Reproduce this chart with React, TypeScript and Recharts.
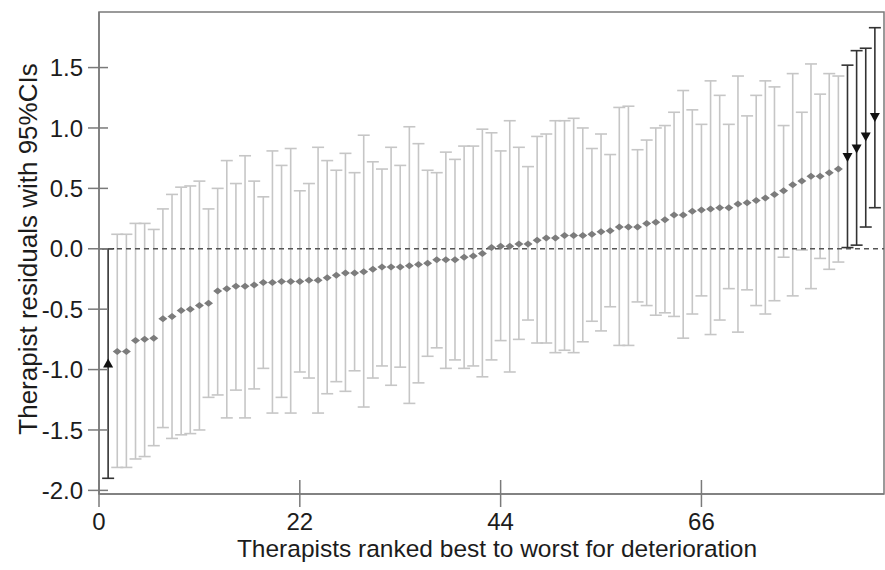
import {
  ComposedChart,
  ErrorBar,
  ReferenceArea,
  ReferenceLine,
  Scatter,
  XAxis,
  YAxis,
} from "recharts";

// therapist residuals, ranked 1..85 best to worst
const estimate = [
  -0.95, -0.85, -0.85, -0.76, -0.75, -0.74, -0.58, -0.56, -0.51, -0.5,
  -0.47, -0.45, -0.35, -0.33, -0.31, -0.31, -0.3, -0.28, -0.28, -0.27,
  -0.27, -0.27, -0.26, -0.26, -0.24, -0.22, -0.2, -0.2, -0.19, -0.17,
  -0.15, -0.15, -0.15, -0.14, -0.13, -0.12, -0.09, -0.09, -0.09, -0.07,
  -0.06, -0.04, 0.01, 0.02, 0.02, 0.04, 0.04, 0.07, 0.09, 0.09,
  0.11, 0.11, 0.11, 0.12, 0.14, 0.15, 0.18, 0.18, 0.18, 0.21,
  0.22, 0.24, 0.28, 0.28, 0.31, 0.32, 0.33, 0.34, 0.34, 0.37,
  0.38, 0.4, 0.42, 0.45, 0.48, 0.53, 0.56, 0.6, 0.6, 0.63,
  0.66, 0.76, 0.83, 0.93, 1.09,
];

const lower = [
  -1.9, -1.81, -1.81, -1.74, -1.72, -1.63, -1.48, -1.57, -1.54, -1.53,
  -1.5, -1.23, -1.21, -1.4, -1.17, -1.4, -1.16, -0.99, -1.36, -1.23,
  -1.36, -1.02, -1.07, -1.36, -1.2, -1.1, -1.18, -1.01, -1.31, -1.07,
  -0.97, -1.13, -0.98, -1.28, -1.11, -0.89, -0.82, -0.99, -0.92, -0.99,
  -0.97, -1.06, -0.92, -0.76, -1.02, -0.75, -0.59, -0.78, -0.78, -0.86,
  -0.84, -0.86, -0.77, -0.6, -0.68, -0.48, -0.8, -0.8, -0.44, -0.47,
  -0.55, -0.53, -0.56, -0.74, -0.54, -0.39, -0.71, -0.59, -0.33, -0.69,
  -0.34, -0.47, -0.54, -0.43, -0.07, -0.39, -0.01, -0.33, -0.08, -0.17,
  -0.11, 0.01, 0.03, 0.18, 0.34,
];

const upper = [
  0.0, 0.12, 0.12, 0.21, 0.21, 0.16, 0.33, 0.45, 0.51, 0.52,
  0.56, 0.33, 0.5, 0.73, 0.54, 0.77, 0.56, 0.43, 0.81, 0.69,
  0.83, 0.48, 0.54, 0.84, 0.73, 0.65, 0.79, 0.63, 0.94, 0.72,
  0.66, 0.84, 0.69, 1.01, 0.87, 0.65, 0.63, 0.8, 0.74, 0.85,
  0.85, 0.99, 0.96, 0.81, 1.06, 0.84, 0.68, 0.93, 0.95, 1.06,
  1.06, 1.08, 1.0, 0.83, 0.95, 0.78, 1.17, 1.18, 0.82, 0.9,
  1.0, 1.02, 1.13, 1.31, 1.15, 1.03, 1.39, 1.27, 1.03, 1.43,
  1.1, 1.27, 1.39, 1.34, 1.02, 1.45, 1.13, 1.53, 1.28, 1.45,
  1.43, 1.52, 1.64, 1.66, 1.83,
];

// ranks whose interval does not cross zero
const betterRanks = [1];
const worseRanks = [82, 83, 84, 85];

const xTicks = [0, 22, 44, 66];
const yTicks = [-2, -1.5, -1, -0.5, 0, 0.5, 1, 1.5];

const FONT = "'Liberation Sans', Arial, sans-serif";
const AXIS = "#7a7a7a";
const TEXT = "#1c1c1c";

const rows = estimate.map((y, i) => ({
  x: i + 1,
  y,
  err: [y - lower[i], upper[i] - y],
}));
const greyRows = rows.filter(
  (r) => !betterRanks.includes(r.x) && !worseRanks.includes(r.x)
);
const betterRows = rows.filter((r) => betterRanks.includes(r.x));
const worseRows = rows.filter((r) => worseRanks.includes(r.x));

const Diamond = (p: any) => (
  <polygon
    points={`${p.cx - 4.5},${p.cy} ${p.cx},${p.cy - 3.5} ${p.cx + 4.5},${p.cy} ${p.cx},${p.cy + 3.5}`}
    fill="#7c7c7c"
  />
);

const TriUp = (p: any) => (
  <polygon
    points={`${p.cx - 5},${p.cy + 4} ${p.cx + 5},${p.cy + 4} ${p.cx},${p.cy - 5}`}
    fill="#111"
  />
);

const TriDown = (p: any) => (
  <polygon
    points={`${p.cx - 5},${p.cy - 4} ${p.cx + 5},${p.cy - 4} ${p.cx},${p.cy + 5}`}
    fill="#111"
  />
);

const YTick = ({ x, y, payload }: any) => (
  <g>
    <line x1={x - 11} x2={x + 9} y1={y} y2={y} stroke={AXIS} strokeWidth={1.5} />
    <text
      x={x - 16}
      y={y}
      dy="0.36em"
      textAnchor="end"
      fontSize={24}
      fontFamily={FONT}
      fill={TEXT}
    >
      {Number(payload.value).toFixed(1)}
    </text>
  </g>
);

const XTick = ({ x, y, payload }: any) => (
  <g>
    <line x1={x} x2={x} y1={y - 14} y2={y + 13} stroke={AXIS} strokeWidth={1.5} />
    <text
      x={x}
      y={y + 36}
      textAnchor="middle"
      fontSize={24}
      fontFamily={FONT}
      fill={TEXT}
    >
      {payload.value}
    </text>
  </g>
);

export default function App() {
  return (
    <div style={{ position: "absolute", left: 0, top: 0, background: "#fff" }}>
      <ComposedChart
        width={885}
        height={570}
        margin={{ top: 12, right: 1, bottom: 0, left: 0 }}
      >
        <XAxis
          type="number"
          dataKey="x"
          domain={[0, 86]}
          ticks={xTicks}
          allowDataOverflow
          height={76}
          tickSize={0}
          tickMargin={0}
          tickLine={false}
          tick={<XTick />}
          axisLine={{ stroke: AXIS, strokeWidth: 1.5 }}
        />
        <YAxis
          type="number"
          dataKey="y"
          domain={[-2.03, 1.96]}
          ticks={yTicks}
          allowDataOverflow
          width={99}
          tickSize={0}
          tickMargin={0}
          tickLine={false}
          tick={<YTick />}
          axisLine={{ stroke: AXIS, strokeWidth: 1.5 }}
        />
        <ReferenceArea
          x1={0}
          x2={86}
          y1={-2.03}
          y2={1.96}
          fill="none"
          stroke={AXIS}
          strokeWidth={1.5}
          fillOpacity={0}
        />
        <Scatter data={greyRows} dataKey="y" shape={Diamond} isAnimationActive={false}>
          <ErrorBar
            dataKey="err"
            direction="y"
            width={6}
            stroke="#c6c6c6"
            strokeWidth={1.6}
            isAnimationActive={false}
          />
        </Scatter>
        <Scatter data={betterRows} dataKey="y" shape={TriUp} isAnimationActive={false}>
          <ErrorBar
            dataKey="err"
            direction="y"
            width={6}
            stroke="#333"
            strokeWidth={1.6}
            isAnimationActive={false}
          />
        </Scatter>
        <Scatter data={worseRows} dataKey="y" shape={TriDown} isAnimationActive={false}>
          <ErrorBar
            dataKey="err"
            direction="y"
            width={6}
            stroke="#333"
            strokeWidth={1.6}
            isAnimationActive={false}
          />
        </Scatter>
        <ReferenceLine y={0} stroke="#555" strokeDasharray="5 4" strokeWidth={1.3} />
        <text
          x={497}
          y={557}
          textAnchor="middle"
          fontSize={24.5}
          fontFamily={FONT}
          fill={TEXT}
        >
          Therapists ranked best to worst for deterioration
        </text>
        <text
          x={37}
          y={249}
          transform="rotate(-90 37 249)"
          textAnchor="middle"
          fontSize={26}
          fontFamily={FONT}
          fill={TEXT}
        >
          Therapist residuals with 95%CIs
        </text>
      </ComposedChart>
    </div>
  );
}
